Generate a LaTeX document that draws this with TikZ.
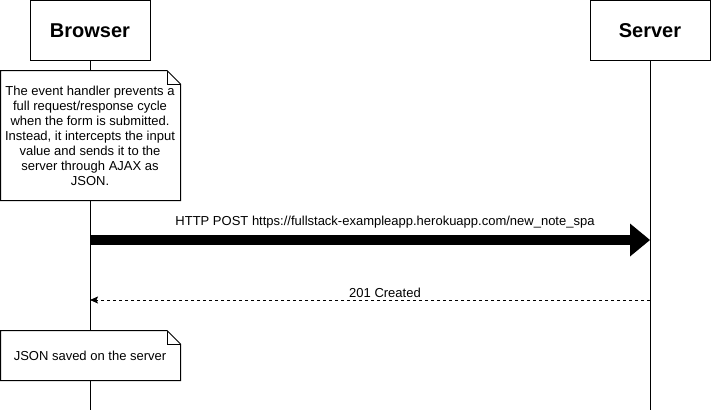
\documentclass[tikz,border=0pt]{standalone}
\usepackage{fontspec}
\setmainfont{Liberation Sans}
\usetikzlibrary{arrows.meta,shapes.misc}
\begin{document}
\begin{tikzpicture}[x=1pt,y=-1pt,
  actor/.style={draw,line width=1pt,minimum width=120pt,minimum height=60pt,font=\fontsize{20}{24}\selectfont\bfseries,inner sep=0pt},
  life/.style={line width=1pt},
  msglabel/.style={font=\fontsize{13}{15}\selectfont,inner sep=0pt},
  notetext/.style={font=\fontsize{13}{15}\selectfont,align=center,inner sep=0pt}]
\useasboundingbox (0,0) rectangle (711,412);
% actors
\node[actor] (browser) at (90,30.5) {Browser};
\node[actor] (server) at (650,30.5) {Server};
\coordinate (bend) at (90,410);
\coordinate (send) at (650,410);
\draw[life] (browser.south) -- (bend);
\draw[life] (server.south) -- (send);
% note 1
\fill[white] (0.5,70.5) -- (167,70.5) -- (180.5,84) -- (180.5,200.5) -- (0.5,200.5) -- cycle;
\draw[line width=1pt] (0.5,70.5) -- (167,70.5) -- (180.5,84) -- (180.5,200.5) -- (0.5,200.5) -- cycle;
\draw[line width=1pt] (167,70.5) -- (167,84) -- (180.5,84);
\node[notetext] (note1) at (90,136) {The event handler prevents a\\full request/response cycle\\when the form is submitted.\\Instead, it intercepts the input\\value and sends it to the\\server through AJAX as\\JSON.};
% note 2
\fill[white] (0.5,330.5) -- (167,330.5) -- (180.5,344) -- (180.5,380.5) -- (0.5,380.5) -- cycle;
\draw[line width=1pt] (0.5,330.5) -- (167,330.5) -- (180.5,344) -- (180.5,380.5) -- (0.5,380.5) -- cycle;
\draw[line width=1pt] (167,330.5) -- (167,344) -- (180.5,344);
\node[notetext] (note2) at (90,356) {JSON saved on the server};
% messages
\coordinate (b1) at (90,240);
\coordinate (s1) at (650,240);
\coordinate (b2) at (90,300);
\coordinate (s2) at (650,300);
\draw[line width=10pt,-{Triangle[length=20pt,width=33pt,line width=0pt]}] (b1) -- (s1);
\node[msglabel] (m1) at (385,222.5) {HTTP POST https://fullstack-exampleapp.herokuapp.com/new\_note\_spa};
\draw[line width=1pt,dash pattern=on 3pt off 3pt,-{Stealth[length=8pt,width=7pt,inset=1.5pt]}] (s2) -- (b2);
\node[msglabel] (m2) at (385,292.5) {201 Created};
\end{tikzpicture}
\end{document}
